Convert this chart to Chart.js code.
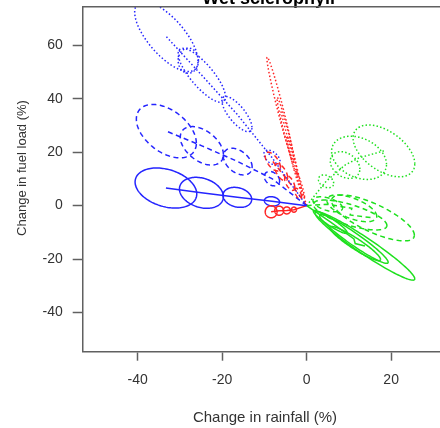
<!DOCTYPE html>
<html>
<head>
<meta charset="utf-8">
<script src="https://cdn.jsdelivr.net/npm/chart.js@4"></script>
<style>
html, body { margin: 0; padding: 0; background: #fff; overflow: hidden; width: 440px; height: 428px; }
canvas { display: block; }
</style>
</head>
<body>
<canvas id="myChart" width="460" height="428"></canvas>
<script>
// each row: [centre x, centre y, half width in x, half height in y, correlation]
const blueSolid = [
    [-8.2, 1.6, 1.8, 1.75, -0.15],
    [-16.4, 3.1, 3.4, 3.75, -0.2],
    [-24.9, 4.8, 5.2, 5.8, -0.25],
    [-33.3, 6.6, 7.3, 7.5, -0.3]
]
const blueDashed = [
    [-8.2, 10.1, 1.8, 2.7, -0.3],
    [-16.3, 16.5, 3.4, 5.0, -0.4],
    [-24.8, 22.4, 5.1, 7.2, -0.45],
    [-33.2, 27.9, 7.1, 10.0, -0.45]
]
const blueDotted = [
    [-8.2, 18.0, 1.9, 2.8, -0.5],
    [-16.5, 34.3, 3.55, 6.6, -0.75],
    [-24.8, 48.8, 5.6, 10.1, -0.8],
    [-28.0, 54.3, 2.4, 4.7, 0],
    [-33.2, 63.3, 7.5, 13.1, -0.7]
]
const redSolid = [
    [-3.0, -1.5, 0.6, 0.95, 0],
    [-4.7, -1.8, 0.85, 1.3, 0],
    [-6.5, -1.9, 1.05, 1.7, 0],
    [-8.4, -2.3, 1.4, 2.25, 0]
]
const redDashed = [
    [-2.0, 4.5, 0.8, 2.0, -0.6],
    [-4.0, 8.5, 1.2, 2.8, -0.6],
    [-6.0, 12.5, 1.5, 3.2, -0.6],
    [-8.0, 16.5, 1.8, 3.5, -0.6]
]
const redDotted = [
    [-1.5, 8, 1.0, 5, -0.95],
    [-3.0, 16, 1.7, 10, -0.97],
    [-4.6, 26, 2.4, 14.5, -0.975],
    [-6.2, 36, 3.2, 19.6, -0.975]
]
const greenSolid = [
    [5.6, -6.1, 4.0, 4.3, -0.93],
    [11.2, -12.5, 8.1, 9.1, -0.955],
    [11.5, -14.2, 6.0, 6.4, -0.93],
    [13.8, -15.1, 11.8, 12.8, -0.96]
]
const greenDashed = [
    [5.0, 0.5, 3.5, 2.8, -0.5],
    [10.7, -1.0, 5.9, 5.0, -0.6],
    [10.3, -3.5, 8.7, 5.6, -0.7],
    [15.7, -4.6, 9.8, 8.6, -0.75]
]
const greenDotted = [
    [4.6, 9.1, 1.8, 2.4, -0.3],
    [9.1, 15.2, 3.5, 5.0, -0.3],
    [12.4, 17.9, 6.5, 8.1, -0.3],
    [18.3, 20.5, 7.3, 9.7, -0.5]
]
const xTicks = [-40, -20, 0, 20]
const yTicks = [-40, -20, 0, 20, 40, 60]
const titulo = 'Wet sclerophyll'
const xTitle = 'Change in rainfall (%)'
const yTitle = 'Change in fuel load (%)'

const azul = '#2525ff', rojo = '#ff2525', verde = '#1ee01e'
const solid = [], dashed = [5, 3.5], dotted = [1.5, 2.2]
const series = [
    { rows: blueSolid, color: azul, dash: solid },
    { rows: blueDashed, color: azul, dash: dashed },
    { rows: blueDotted, color: azul, dash: dotted },
    { rows: redSolid, color: rojo, dash: solid },
    { rows: redDashed, color: rojo, dash: dashed },
    { rows: redDotted, color: rojo, dash: dotted },
    { rows: greenSolid, color: verde, dash: solid },
    { rows: greenDashed, color: verde, dash: dashed },
    { rows: greenDotted, color: verde, dash: dotted }
]
const grosor = 1.5

const datasets = series.map(s => ({
    data: [{ x: 0, y: 0 }].concat(s.rows.map(r => ({ x: r[0], y: r[1] }))),
    showLine: true,
    borderColor: s.color,
    borderDash: s.dash,
    borderWidth: grosor,
    pointRadius: 0,
    tension: 0
}))

// draws the ellipses through the chart scales
const ellipses = {
    id: 'ellipses',
    afterDatasetsDraw(chart) {
        const { ctx, chartArea: a, scales } = chart
        ctx.save()
        ctx.beginPath()
        ctx.rect(a.left, a.top, a.right - a.left, a.bottom - a.top)
        ctx.clip()
        ctx.lineWidth = grosor
        series.forEach(s => {
            ctx.strokeStyle = s.color
            ctx.setLineDash(s.dash)
            s.rows.forEach(([cx, cy, hx, hy, r]) => {
                ctx.beginPath()
                for (let i = 0; i <= 120; i++) {
                    const t = i / 120 * 2 * Math.PI
                    const px = scales.x.getPixelForValue(cx + hx * Math.cos(t))
                    const py = scales.y.getPixelForValue(cy + hy * (r * Math.cos(t) + Math.sqrt(1 - r * r) * Math.sin(t)))
                    if (i) ctx.lineTo(px, py); else ctx.moveTo(px, py)
                }
                ctx.stroke()
            })
        })
        ctx.restore()
    }
}

// title, top of the box and axis titles
const marco = {
    id: 'marco',
    afterDraw(chart) {
        const { ctx, chartArea: a } = chart
        ctx.save()
        ctx.fillStyle = '#000'
        ctx.font = 'bold 18px "Liberation Sans", Arial, sans-serif'
        ctx.textAlign = 'center'
        ctx.textBaseline = 'alphabetic'
        ctx.fillText(titulo, (a.left + a.right) / 2, 3.5)
        ctx.strokeStyle = '#606060'
        ctx.lineWidth = 1.5
        ctx.beginPath()
        ctx.moveTo(a.left, a.top)
        ctx.lineTo(a.right, a.top)
        ctx.stroke()
        ctx.fillStyle = '#333'
        ctx.textBaseline = 'middle'
        ctx.font = '15px "Liberation Sans", Arial, sans-serif'
        ctx.fillText(xTitle, 265, 418)
        ctx.translate(22.5, 168)
        ctx.rotate(-Math.PI / 2)
        ctx.font = '13px "Liberation Sans", Arial, sans-serif'
        ctx.fillText(yTitle, 0, 0)
        ctx.restore()
    }
}

const sinPadding = s => { s.paddingTop = 0; s.paddingBottom = 0; s.paddingLeft = 0; s.paddingRight = 0 }

const myChart = document.getElementById('myChart')
new Chart(myChart, {
    type: 'scatter',
    data: { datasets: datasets },
    plugins: [ellipses, marco],
    options: {
        responsive: false,
        animation: false,
        devicePixelRatio: 1,
        layout: { padding: { top: 6.7, right: 5.5, left: 0, bottom: 0 } },
        plugins: { legend: { display: false }, tooltip: { enabled: false } },
        scales: {
            x: {
                min: -53, max: 35,
                afterBuildTicks: s => { s.ticks = xTicks.map(v => ({ value: v })) },
                afterFit: s => { s.height = 76.3; sinPadding(s) },
                grid: { drawOnChartArea: false, tickLength: 9, color: '#606060', tickWidth: 1.5 },
                border: { display: true, color: '#606060', width: 1.5 },
                ticks: { padding: 11, color: '#333', font: { size: 14, family: '"Liberation Sans", Arial, sans-serif' }, maxRotation: 0, minRotation: 0 }
            },
            y: {
                min: -54.7, max: 74.5,
                afterBuildTicks: s => { s.ticks = yTicks.map(v => ({ value: v })) },
                afterFit: s => { s.width = 82.7; sinPadding(s) },
                grid: { drawOnChartArea: false, tickLength: 10, color: '#606060', tickWidth: 1.5 },
                border: { display: true, color: '#606060', width: 1.5 },
                ticks: { padding: 10, color: '#333', font: { size: 14, family: '"Liberation Sans", Arial, sans-serif' }, maxRotation: 0, minRotation: 0 }
            }
        }
    }
})
</script>
</body>
</html>
